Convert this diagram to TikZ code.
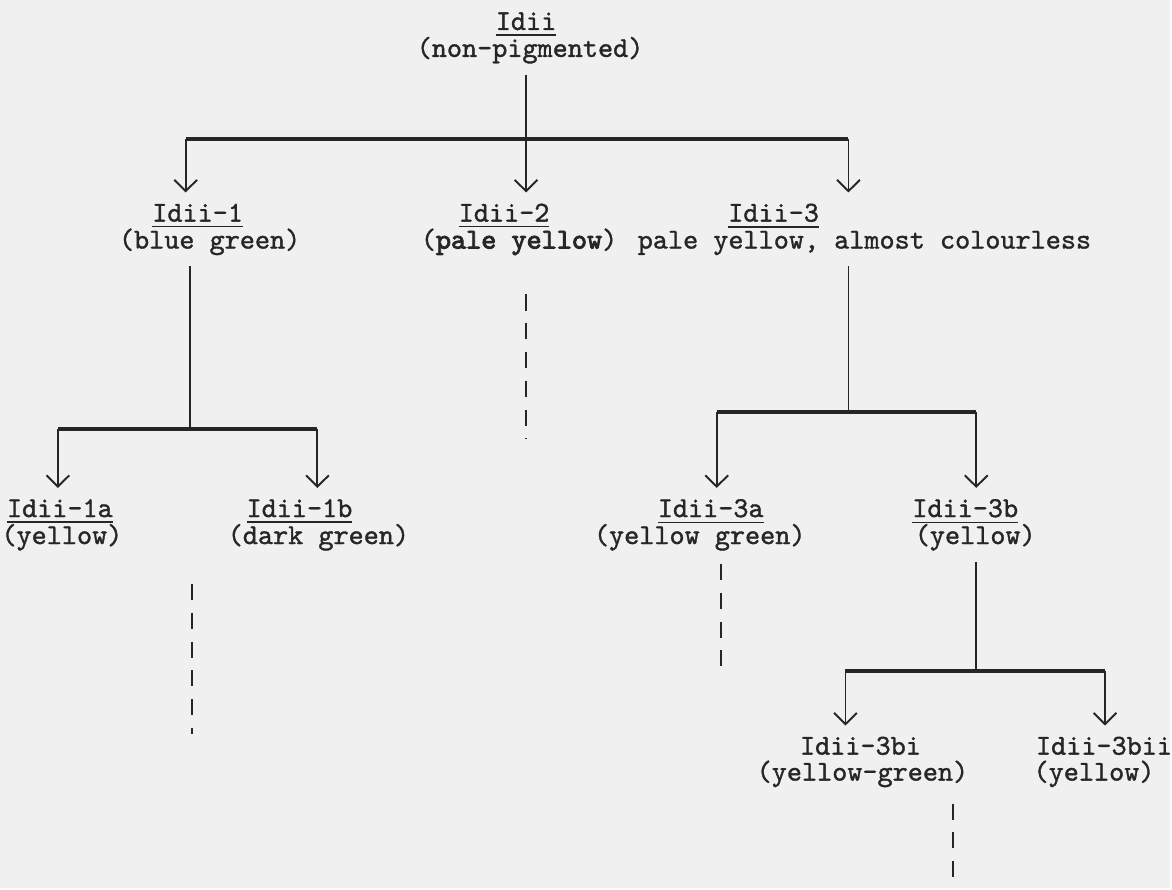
\documentclass[tikz,border=0pt]{standalone}
\usepackage{fontspec}
\newfontfamily\typer{lmmono10-regular.otf}[FakeBold=1.2]
\newfontfamily\typerbold{lmmono10-regular.otf}[FakeBold=3]
\usetikzlibrary{arrows.meta}
\begin{document}
\begin{tikzpicture}[x=0.01cm, y=-0.01cm,
  every node/.style={anchor=base, inner xsep=0pt, inner ysep=3pt, text=black!85,
    font=\typer\fontsize{8.2}{9}\selectfont},
  bus/.style={line width=1.1pt, black!85},
  stem/.style={line width=0.55pt, black!85},
  arr/.style={stem, -{Straight Barb[length=3.2pt,width=6.5pt]}},
  cont/.style={stem, dash pattern=on 4.6pt off 3.6pt}]
  \fill[black!6] (0,0) rectangle (1172,890);
  \node (root) at (527,30) {\underline{Idii}};
  \node (rootd) at (531,57) {(non-pigmented)};
  \node (n1) at (198,222) {\underline{Idii-1}};
  \node (n1d) at (210,249) {(blue green)};
  \node (n2) at (505,222) {\underline{Idii-2}};
  \node (n2d) at (520,249) {({\typerbold pale yellow})};
  \node (n3) at (775,222) {\underline{Idii-3}};
  \node (n3d) at (866,249) {pale yellow, almost colourless};
  \node (n1a) at (60,518) {\underline{Idii-1a}};
  \node (n1ad) at (62,545) {(yellow)};
  \node (n1b) at (300,518) {\underline{Idii-1b}};
  \node (n1bd) at (319,545) {(dark green)};
  \node (n3a) at (712,518) {\underline{Idii-3a}};
  \node (n3ad) at (701,545) {(yellow green)};
  \node (n3b) at (967,518) {\underline{Idii-3b}};
  \node (n3bd) at (977,545) {(yellow)};
  \node (n3bi) at (862,756) {Idii-3bi};
  \node (n3bid) at (864,782) {(yellow-green)};
  \node (n3bii) at (1106,756) {Idii-3bii};
  \node (n3biid) at (1096,782) {(yellow)};
  % splits
  \coordinate (j0) at (527,139);
  \coordinate (b0l) at (186,139);
  \coordinate (b0r) at (850,139);
  \draw[stem] (j0 |- rootd.south) -- (j0);
  \draw[bus] (b0l) -- (b0r);
  \draw[arr] (b0l) -- (b0l |- n1.north);
  \draw[arr] (j0) -- (j0 |- n2.north);
  \draw[arr] (b0r) -- (b0r |- n3.north);
  \coordinate (j1) at (190,430);
  \coordinate (b1l) at (58,430);
  \coordinate (b1r) at (318,430);
  \draw[stem] (j1 |- n1d.south) -- (j1);
  \draw[bus] (b1l) -- (b1r);
  \draw[arr] (b1l) -- (b1l |- n1a.north);
  \draw[arr] (b1r) -- (b1r |- n1b.north);
  \coordinate (j3) at (850,413);
  \coordinate (b3l) at (718,413);
  \coordinate (b3r) at (978,413);
  \draw[stem] (j3 |- n3d.south) -- (j3);
  \draw[bus] (b3l) -- (b3r);
  \draw[arr] (b3l) -- (b3l |- n3a.north);
  \draw[arr] (b3r) -- (b3r |- n3b.north);
  \coordinate (j3b) at (978,672);
  \coordinate (b3bl) at (847,672);
  \coordinate (b3br) at (1107,672);
  \draw[stem] (j3b |- n3bd.south) -- (j3b);
  \draw[bus] (b3bl) -- (b3br);
  \draw[arr] (b3bl) -- (b3bl |- n3bi.north);
  \draw[arr] (b3br) -- (b3br |- n3bii.north);
  % unfinished lines
  \draw[cont] (527,295) -- (527,440);
  \draw[cont] (192,585) -- (192,735);
  \draw[cont] (722,565) -- (722,680);
  \draw[cont] (955,805) -- (955,890);
\end{tikzpicture}
\end{document}
